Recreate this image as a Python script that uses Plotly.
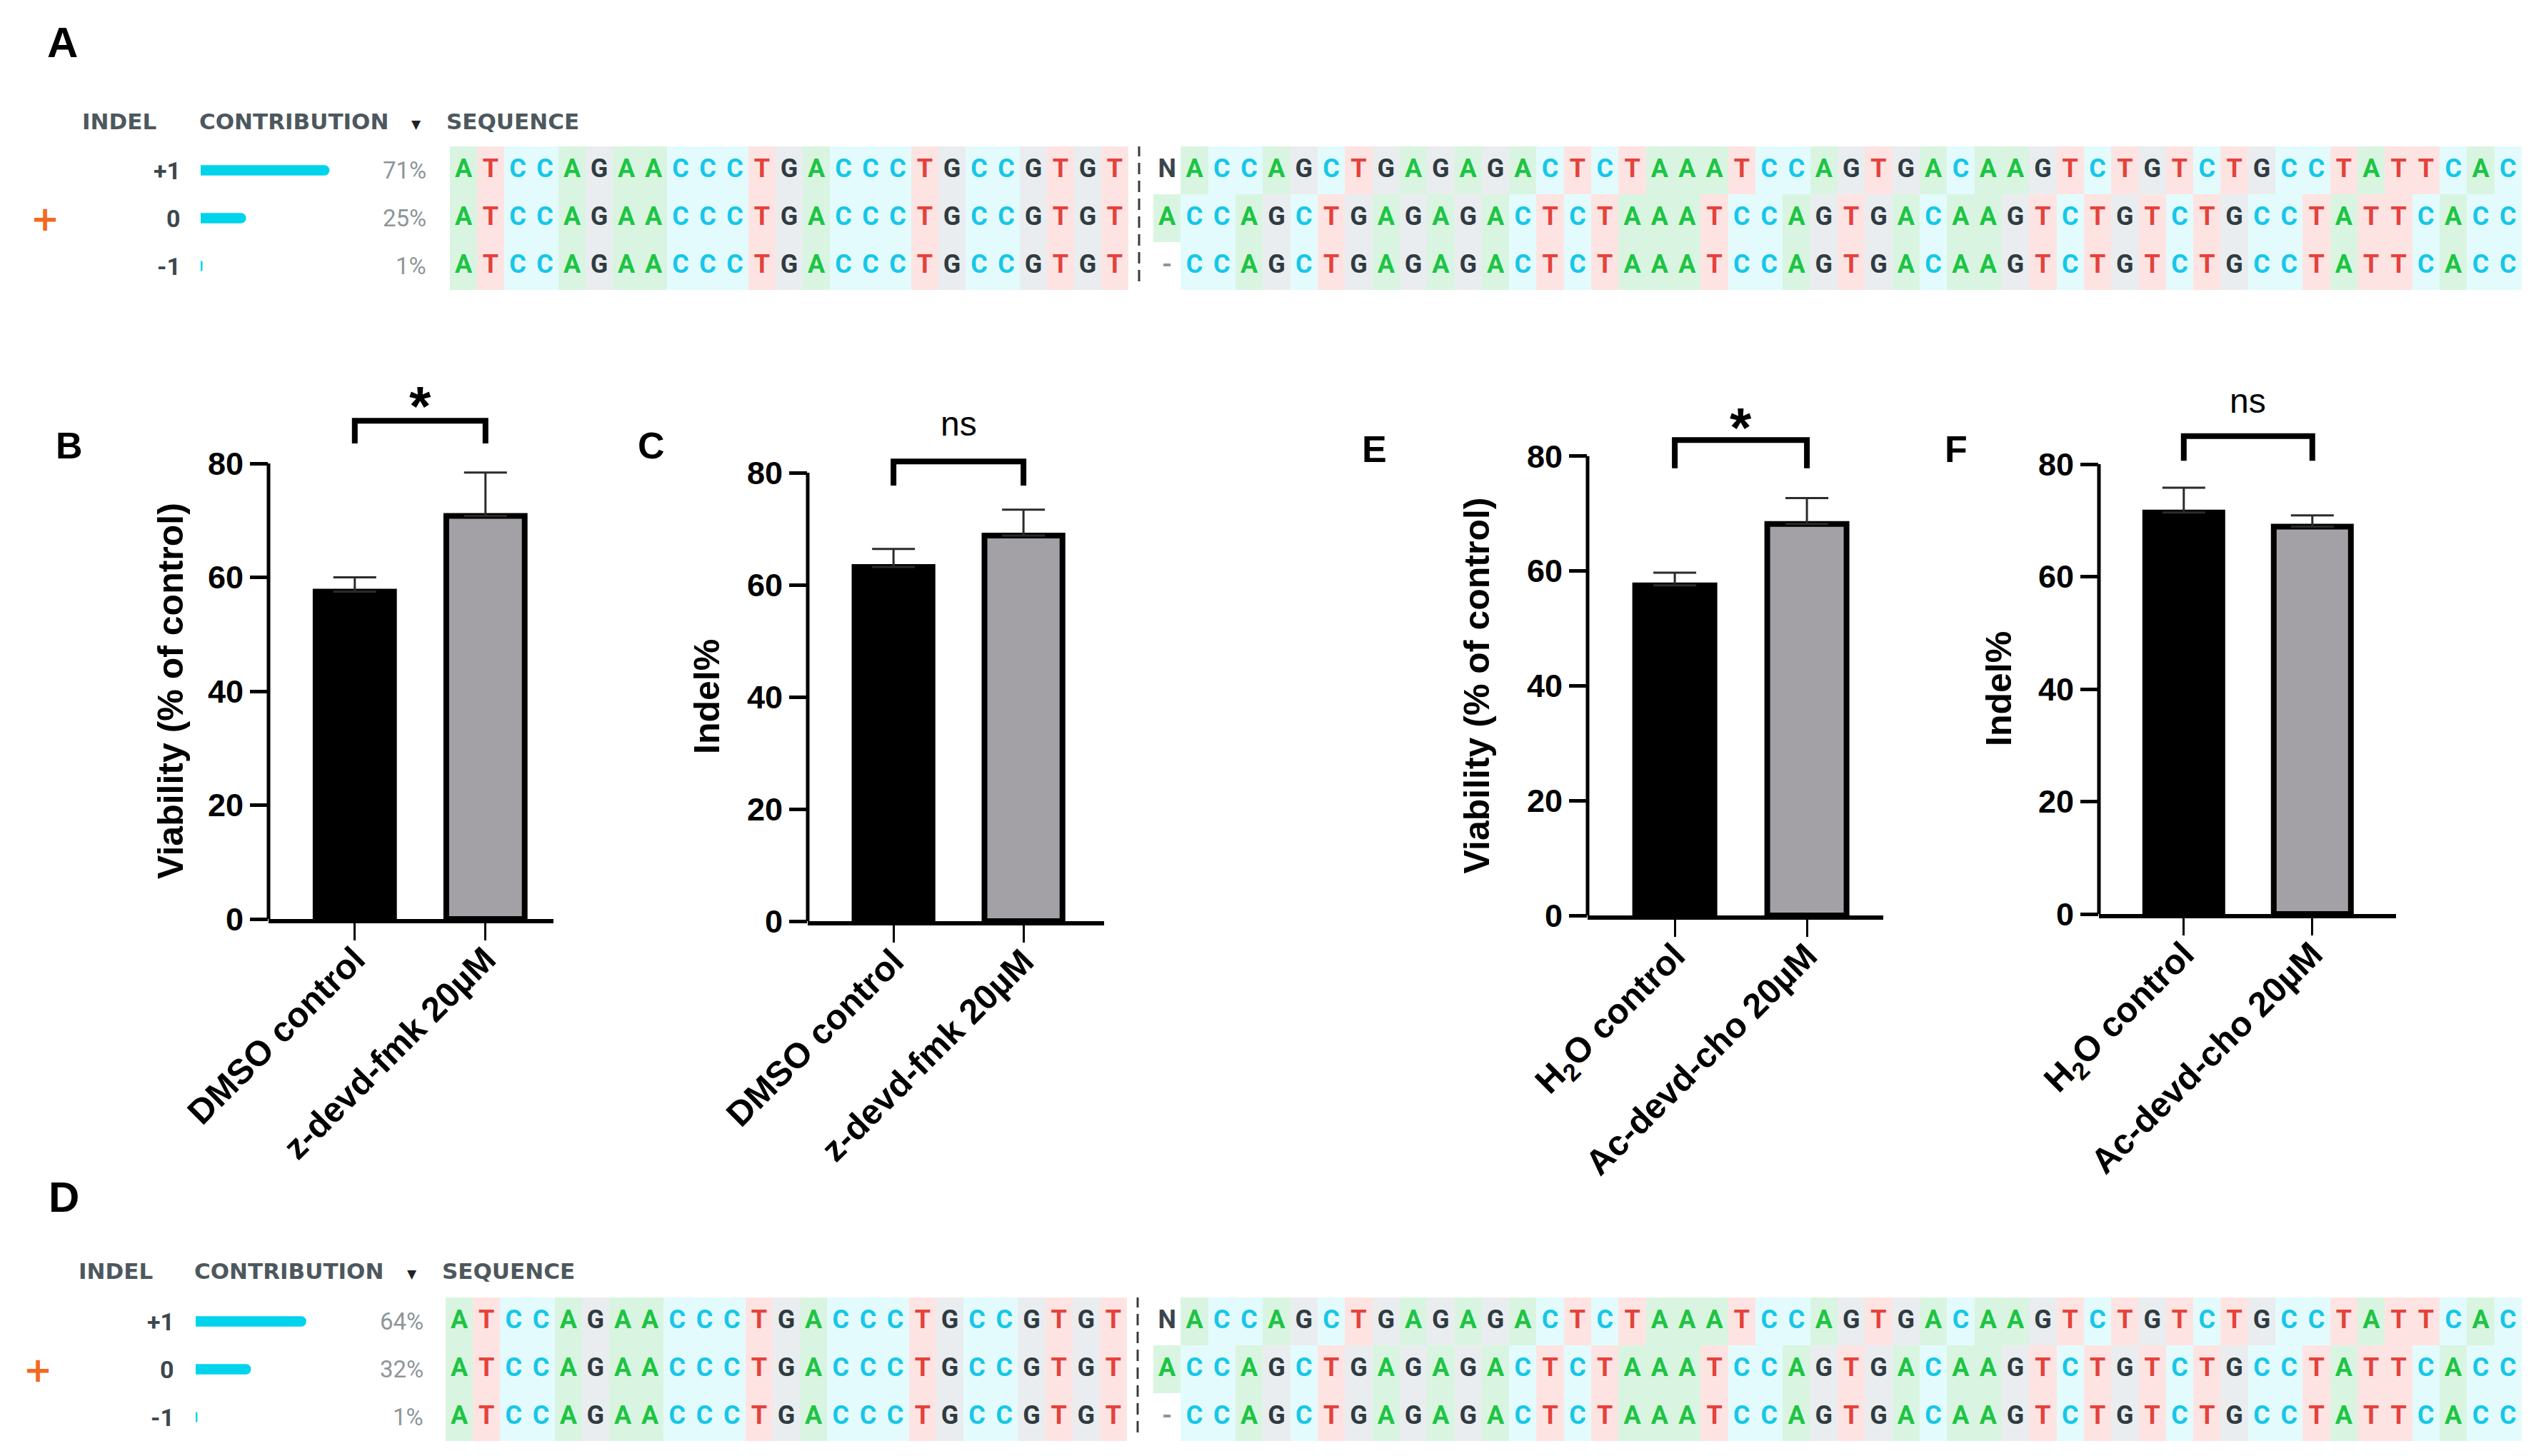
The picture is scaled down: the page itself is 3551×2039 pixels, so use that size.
import plotly.graph_objects as go

W, H = 3551, 2039

# ---------------- data ----------------
indel_labels = ["+1", "0", "-1"]
contribution_A = [71, 25, 1]
contribution_D = [64, 32, 1]
seq_left = ["ATCCAGAACCCTGACCCTGCCGTGT",
            "ATCCAGAACCCTGACCCTGCCGTGT",
            "ATCCAGAACCCTGACCCTGCCGTGT"]
seq_right = ["NACCAGCTGAGAGACTCTAAATCCAGTGACAAGTCTGTCTGCCTATTCAC",
             "ACCAGCTGAGAGACTCTAAATCCAGTGACAAGTCTGTCTGCCTATTCACC",
             "-CCAGCTGAGAGACTCTAAATCCAGTGACAAGTCTGTCTGCCTATTCACC"]

groups_fmk = ["DMSO control", "z-devd-fmk 20µM"]
groups_cho = ["H<sub>2</sub>O control", "Ac-devd-cho 20µM"]
viability_fmk = [57.5, 70.8]
viability_fmk_sem = [2.5, 7.6]
indel_fmk = [63.2, 68.8]
indel_fmk_sem = [3.2, 4.6]
viability_cho = [57.5, 68.2]
viability_cho_sem = [2.2, 4.5]
indel_cho = [71.4, 68.9]
indel_cho_sem = [4.4, 2.0]
significance = ["*", "ns", "*", "ns"]
y_ticks = [0, 20, 40, 60, 80]

# ---------------- styles ----------------
BASE_CODE = {"A": 0, "C": 1, "G": 2, "T": 3}
BG = ["#d9f5e1", "#e4fbfd", "#eaedef", "#fde4e2", "#ffffff"]
LETTER_COLOR = {"A": "#1ec444", "T": "#e4423c", "C": "#16c7e6", "G": "#2f3b41",
                "N": "#3a454b", "-": "#8c9599"}
CYAN = "#00d3ec"
GRAY_BAR = "#a3a1a6"
BAR_FONT = "Liberation Sans"
X_SHIFT, Y_SHIFT = -5, -8


def fx(p):
    return (p + X_SHIFT) / W


def fy(p):
    return 1 - (p + Y_SHIFT) / H


def ax(letter, n):
    return letter if n == 1 else f"{letter}{n}"


def axkey(letter, n):
    return f"{letter}axis" if n == 1 else f"{letter}axis{n}"


fig = go.Figure()
layout = dict(width=W, height=H, margin=dict(l=0, r=0, t=0, b=0),
              paper_bgcolor="white", plot_bgcolor="rgba(0,0,0,0)",
              showlegend=False, hovermode=False, template="none")
annotations = []
shapes = []

colorscale = []
for i, c in enumerate(BG):
    colorscale.append([i / len(BG), c])
    colorscale.append([(i + 1) / len(BG), c])


def seq_traces(seqs, xa, ya):
    ncol = max(len(s) for s in seqs)
    z = []
    for s in seqs:
        z.append([BASE_CODE.get(ch, 4) for ch in s])
    fig.add_trace(go.Heatmap(z=z, x=list(range(ncol)), y=list(range(len(seqs))),
                             colorscale=colorscale, zmin=-0.5, zmax=4.5,
                             showscale=False, xaxis=xa, yaxis=ya, hoverinfo="skip"))
    xs, ys, txt, cols = [], [], [], []
    for r, s in enumerate(seqs):
        for i, ch in enumerate(s):
            xs.append(i)
            ys.append(r)
            txt.append(ch)
            cols.append(LETTER_COLOR.get(ch, "#333"))
    fig.add_trace(go.Scatter(x=xs, y=ys, text=txt, mode="text", xaxis=xa, yaxis=ya,
                             textfont=dict(family="Roboto", size=36, color=cols, weight=700),
                             cliponaxis=False, hoverinfo="skip"))


def crispr_panel(letter, contrib, yn, xns, geo):
    ya = ax("y", yn)
    xc, xl, xr = [ax("x", n) for n in xns]
    nrows = len(indel_labels)
    layout[axkey("y", yn)] = dict(domain=[fy(geo["ybot"]), fy(geo["ytop"])],
                                  range=[nrows - 0.5, -0.5], visible=False,
                                  anchor=xc, fixedrange=True)
    cx0 = geo["contrib_x0"]
    layout[axkey("x", xns[0])] = dict(domain=[fx(cx0), fx(cx0 + 100 * geo["ppp"])],
                                      range=[0, 100], visible=False, anchor=ya)
    layout[axkey("x", xns[1])] = dict(domain=[fx(geo["left"][0]), fx(geo["left"][1])],
                                      range=[-0.5, len(seq_left[0]) - 0.5],
                                      visible=False, anchor=ya)
    layout[axkey("x", xns[2])] = dict(domain=[fx(geo["right"][0]), fx(geo["right"][1])],
                                      range=[-0.5, len(seq_right[0]) - 0.5],
                                      visible=False, anchor=ya)
    # contribution bars
    fig.add_trace(go.Bar(x=contrib, y=list(range(nrows)), orientation="h",
                         xaxis=xc, yaxis=ya, width=0.22,
                         marker=dict(color=CYAN, line=dict(width=0), cornerradius=7),
                         hoverinfo="skip"))
    seq_traces(seq_left, xl, ya)
    seq_traces(seq_right, xr, ya)
    # dashed divider
    shapes.append(dict(type="line", xref="paper", yref=f"{ya} domain",
                       x0=fx(geo["dash"]), x1=fx(geo["dash"]), y0=0.06, y1=1.0,
                       line=dict(color="#3a3a3a", width=3, dash="16px,9px")))
    # headers
    hf = dict(family="DejaVu Sans", size=31, color="#4d585e", weight=700)
    hy = fy(geo["header_y"])
    for txt, xpos in (("INDEL", geo["indel_x"]), ("CONTRIBUTION", geo["contrib_txt_x"]),
                      ("SEQUENCE", geo["seq_txt_x"])):
        annotations.append(dict(xref="paper", yref="paper", x=fx(xpos), y=hy,
                                text=txt, showarrow=False, xanchor="left", yanchor="middle", font=hf))
    annotations.append(dict(xref="paper", yref="paper", x=fx(geo["tri_x"]), y=fy(geo["header_y"] + 4),
                            text="▼", showarrow=False, xanchor="center", yanchor="middle",
                            font=dict(family="DejaVu Sans", size=17, color="#222")))
    # row labels & percentages
    for r, (lab, v) in enumerate(zip(indel_labels, contrib)):
        annotations.append(dict(xref="paper", yref=ya, x=fx(geo["label_right"]), y=r,
                                text=lab, showarrow=False, xanchor="right", yanchor="middle",
                                font=dict(family="Roboto", size=34, color="#3d474d", weight=700)))
        annotations.append(dict(xref="paper", yref=ya, x=fx(geo["pct_right"]), y=r,
                                text=f"{v}%", showarrow=False, xanchor="right", yanchor="middle",
                                font=dict(family="Roboto", size=33, color="#8d9699")))
    # reference allele marker
    annotations.append(dict(xref="paper", yref=ya, x=fx(geo["plus_x"]), y=indel_labels.index("0"),
                            text="+", showarrow=False, xanchor="center", yanchor="middle",
                            font=dict(family="DejaVu Sans", size=48, color="#f26a21", weight=700)))
    # panel letter
    annotations.append(dict(xref="paper", yref="paper", x=fx(geo["letter"][0]), y=fy(geo["letter"][1]),
                            text=letter, showarrow=False, xanchor="center", yanchor="middle",
                            font=dict(family=BAR_FONT, size=60, color="black", weight=700)))


crispr_panel("A", contribution_A, 1, (1, 2, 3), dict(
    ytop=205, ybot=406, contrib_x0=278, ppp=2.54, left=(627, 1577), right=(1612, 3528),
    dash=1592, header_y=170, indel_x=110, contrib_txt_x=274, seq_txt_x=620, tri_x=580,
    label_right=252, pct_right=596, plus_x=60, letter=(84, 60)))
crispr_panel("D", contribution_D, 2, (4, 5, 6), dict(
    ytop=1817, ybot=2018, contrib_x0=271, ppp=2.42, left=(621, 1575), right=(1612, 3528),
    dash=1590, header_y=1780, indel_x=105, contrib_txt_x=267, seq_txt_x=614, tri_x=574,
    label_right=243, pct_right=592, plus_x=50, letter=(86, 1676)))


def bar_panel(letter, xn, yn, cats, vals, sems, ytitle, sig, geo):
    xa, ya = ax("x", xn), ax("y", yn)
    xr = [-0.66, geo["xmax"]]
    ymax = 105
    x0 = geo["x0"]
    layout[axkey("x", xn)] = dict(
        domain=[fx(x0), fx(x0 + (xr[1] - xr[0]) * geo["spacing"])], anchor=ya,
        type="category", categoryorder="array", categoryarray=cats, range=xr,
        showline=True, linewidth=6, linecolor="black", ticks="outside", ticklen=24,
        tickwidth=3, tickcolor="black", tickangle=-45, showgrid=False, zeroline=False,
        ticklabelstandoff=-22,
        tickfont=dict(family=BAR_FONT, size=49, color="black", weight=700), automargin=False)
    layout[axkey("y", yn)] = dict(
        domain=[fy(geo["zero"]), fy(geo["zero"] - ymax * geo["ppu"])], anchor=xa,
        range=[0, ymax], tickmode="array", tickvals=y_ticks, ticks="outside", ticklen=25,
        tickwidth=5, tickcolor="black", showline=False, showgrid=False, zeroline=False,
        tickfont=dict(family=BAR_FONT, size=45, color="black", weight=700), automargin=False)
    fig.add_trace(go.Bar(
        x=cats, y=vals, xaxis=xa, yaxis=ya, width=0.6,
        marker=dict(color=["#000000", GRAY_BAR], line=dict(color="#000000", width=8)),
        error_y=dict(type="data", array=sems, arrayminus=[0] * len(sems), symmetric=False,
                     color="#2b2b2b", thickness=3, width=30),
        hoverinfo="skip"))
    top, end = geo["bracket"]
    fig.add_trace(go.Scatter(x=[cats[0], cats[0], cats[1], cats[1]], y=[end, top, top, end],
                             mode="lines", xaxis=xa, yaxis=ya,
                             line=dict(color="black", width=8), hoverinfo="skip"))
    # y-axis line from 0 to 80
    shapes.append(dict(type="line", xref=f"{xa} domain", yref=f"{ya} domain",
                       x0=0, x1=0, y0=0, y1=max(y_ticks) / ymax,
                       line=dict(color="black", width=5)))
    if sig == "*":
        sf = dict(family=BAR_FONT, size=78, color="black", weight=700)
    else:
        sf = dict(family=BAR_FONT, size=48, color="black")
    annotations.append(dict(xref=xa, yref=ya, x=0.5, y=geo["sig_y"], text=sig,
                            showarrow=False, xanchor="center", yanchor="middle", font=sf))
    annotations.append(dict(xref="paper", yref=ya, x=fx(geo["title_x"]), y=40, text=ytitle,
                            textangle=-90, showarrow=False, xanchor="center", yanchor="middle",
                            font=dict(family=BAR_FONT, size=50, color="black", weight=700)))
    annotations.append(dict(xref="paper", yref="paper", x=fx(geo["letter"][0]), y=fy(geo["letter"][1]),
                            text=letter, showarrow=False, xanchor="center", yanchor="middle",
                            font=dict(family=BAR_FONT, size=52, color="black", weight=700)))


bar_panel("B", 7, 3, groups_fmk, viability_fmk, viability_fmk_sem,
          "Viability (% of control)", significance[0],
          dict(x0=373, spacing=183, xmax=1.52, zero=1287, ppu=7.975, bracket=(87.5, 83.5),
               sig_y=90.0, title_x=236, letter=(94, 624)))
bar_panel("C", 8, 4, groups_fmk, indel_fmk, indel_fmk_sem,
          "Indel%", significance[1],
          dict(x0=1128, spacing=182, xmax=1.62, zero=1290, ppu=7.85, bracket=(82.0, 77.7),
               sig_y=88.7, title_x=987, letter=(909, 624)))
bar_panel("E", 9, 5, groups_cho, viability_cho, viability_cho_sem,
          "Viability (% of control)", significance[2],
          dict(x0=2220, spacing=185, xmax=1.58, zero=1282, ppu=8.04, bracket=(82.8, 77.9),
               sig_y=85.0, title_x=2065, letter=(1921, 629)))
bar_panel("F", 10, 6, groups_cho, indel_cho, indel_cho_sem,
          "Indel%", significance[3],
          dict(x0=2936, spacing=180, xmax=1.65, zero=1280, ppu=7.875, bracket=(85.0, 80.6),
               sig_y=91.2, title_x=2796, letter=(2736, 629)))

layout["annotations"] = annotations
layout["shapes"] = shapes
fig.update_layout(**layout)
fig.update_traces(showlegend=False)
fig.write_html("out.html", config=dict(displayModeBar=False, staticPlot=True))
